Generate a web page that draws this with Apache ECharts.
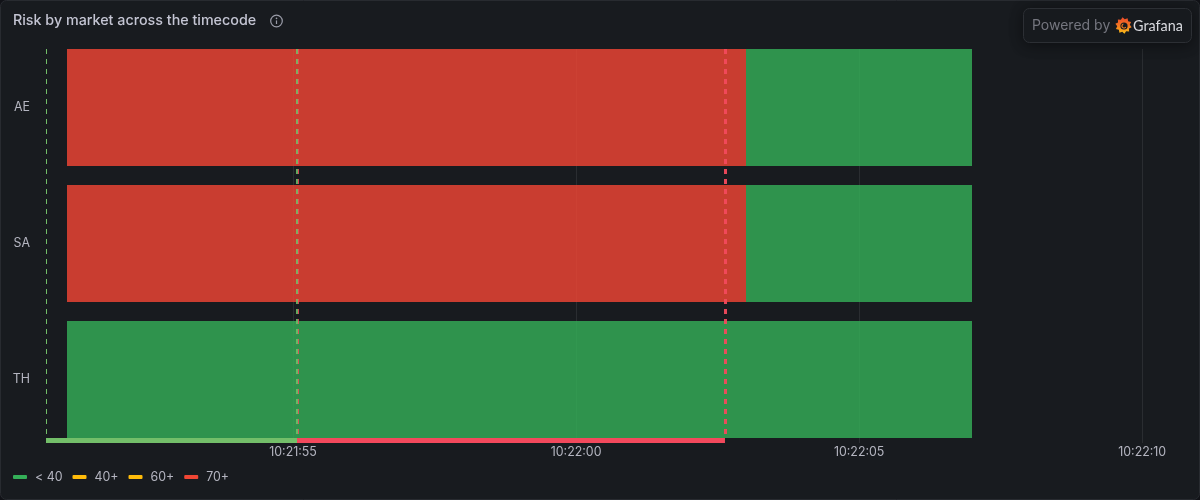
<!DOCTYPE html>
<html>
<head>
<meta charset="utf-8">
<script src="https://cdn.jsdelivr.net/npm/echarts@6/dist/echarts.min.js"></script>
<style>
html,body{margin:0;padding:0;background:#111217;}
#chart{width:1200px;height:500px;}
</style>
</head>
<body>
<div id="chart"></div>
<script>
const categories = ['AE', 'SA', 'TH'];
const legendNames = ['< 40', '40+', '60+', '70+'];
const legendColors = ['#34AF58', '#FFBC0A', '#FFBC0A', '#F04634'];
// [row, start, end]
const lowRiskSegments = [
  ['AE', '10:22:03', '10:22:07'],
  ['SA', '10:22:03', '10:22:07'],
  ['TH', '10:21:51', '10:22:07']
];
const highRiskSegments = [
  ['AE', '10:21:51', '10:22:03'],
  ['SA', '10:21:51', '10:22:03']
];
const axisStart = '10:21:50.636';
const axisEnd = '10:22:10.880';
const tickTimes = ['10:21:55', '10:22:00', '10:22:05', '10:22:10'];
const greenMarkers = ['10:21:50.640', '10:21:55.075'];
const redMarkers = ['10:21:55.095', '10:22:02.645'];
const greenRange = [['10:21:50.636', '10:21:55.070']];
const redRange = [['10:21:55.070', '10:22:02.630']];

const t = s => new Date('2024-01-01T' + s).getTime();
const FONT = 'Inter, "Noto Sans", sans-serif';

function segmentRender(params, api) {
  const rowIndex = api.value(0);
  const a = api.coord([api.value(1), rowIndex]);
  const b = api.coord([api.value(2), rowIndex]);
  const h = api.size([0, 1])[1] * 0.86;
  const x0 = Math.round(a[0]);
  const x1 = Math.round(b[0]);
  return {
    type: 'rect',
    shape: { x: x0, y: a[1] - h / 2, width: x1 - x0, height: h },
    style: { fill: api.visual('color'), opacity: 0.82 }
  };
}
function bandLimits(api) {
  const h = api.size([0, 1])[1];
  const bar = h * 0.86;
  const top = api.coord([api.value(0), 0])[1] - bar / 2;
  const bottom = api.coord([api.value(0), categories.length - 1])[1] + bar / 2;
  return { top, bottom };
}
function markerRender(color, width, opacity) {
  return function (params, api) {
    const lim = bandLimits(api);
    const x = Math.floor(api.coord([api.value(0), 0])[0]) + (width % 2 ? 0.5 : 0);
    return {
      type: 'line',
      shape: { x1: x, y1: lim.top, x2: x, y2: lim.bottom },
      style: { stroke: color, lineWidth: width, lineDash: [5, 5], opacity: opacity }
    };
  };
}
function rangeRender(color) {
  return function (params, api) {
    const lim = bandLimits(api);
    const a = api.coord([api.value(0), 0])[0];
    const b = api.coord([api.value(1), 0])[0];
    return {
      type: 'rect',
      shape: { x: a, y: lim.bottom, width: b - a, height: 5 },
      style: { fill: color }
    };
  };
}
const segSeries = (i, rows) => ({
  type: 'custom',
  name: legendNames[i],
  xAxisIndex: 0, yAxisIndex: 0,
  clip: false,
  itemStyle: { color: legendColors[i] },
  renderItem: segmentRender,
  encode: { x: [1, 2], y: 0 },
  data: rows.map(r => [categories.indexOf(r[0]), t(r[1]), t(r[2])])
});
const annSeries = (name, render, rows) => ({
  type: 'custom', name, xAxisIndex: 0, yAxisIndex: 0, clip: false, silent: true, z: 5,
  renderItem: render, encode: { x: 0 }, data: rows
});

// Grafana-like mark: gear outline with a swirl inside
const gearPoints = [];
for (let i = 0; i < 20; i++) {
  const ang = i * Math.PI / 10 + 0.2;
  const rad = i % 2 ? 6.3 : 8.3;
  gearPoints.push([1123.5 + rad * Math.cos(ang), 25.5 + rad * Math.sin(ang)]);
}
const logoFill = new echarts.graphic.LinearGradient(0, 0, 0, 1, [
  { offset: 0, color: '#EE4A2A' }, { offset: 0.55, color: '#F47B20' }, { offset: 1, color: '#FBC318' }
]);

const chart = echarts.init(document.getElementById('chart'), null, { renderer: 'canvas' });
chart.setOption({
  animation: false,
  backgroundColor: 'transparent',
  title: {
    text: 'Risk by market across the timecode',
    left: 13, top: 13,
    padding: 0,
    textStyle: { color: '#C4C5D3', fontFamily: FONT, fontSize: 14.3, fontWeight: 500, lineHeight: 16 }
  },
  legend: {
    left: 13, top: 471, padding: 0,
    itemWidth: 14, itemHeight: 4, itemGap: 10,
    icon: 'roundRect',
    textStyle: { color: '#B4B5C0', fontFamily: FONT, fontSize: 12.4, padding: [0, 0, 0, 3] },
    data: legendNames.map((n, i) => ({ name: n, itemStyle: { color: legendColors[i] } }))
  },
  grid: [
    { left: 46, right: 8, top: 39.5, height: 408 },
    { left: 46, right: 8, top: 49, height: 394 }
  ],
  xAxis: [
    { gridIndex: 0, type: 'time', min: t(axisStart), max: t(axisEnd), show: false },
    {
      gridIndex: 1, type: 'time', min: t(axisStart), max: t(axisEnd),
      axisLine: { show: false },
      axisTick: { show: false, customValues: tickTimes.map(t) },
      axisLabel: {
        color: '#B4B5C0', fontFamily: FONT, fontSize: 12.4, margin: 3,
        customValues: tickTimes.map(t),
        hideOverlap: false,
        formatter: '{HH}:{mm}:{ss}'
      },
      splitLine: { show: true, lineStyle: { color: '#2A2D31', width: 1 } }
    }
  ],
  yAxis: [
    {
      gridIndex: 0, type: 'category', inverse: true, data: categories,
      axisLine: { show: false }, axisTick: { show: false }, splitLine: { show: false },
      axisLabel: { color: '#B4B5C0', fontFamily: FONT, fontSize: 12.4, margin: 16 }
    },
    { gridIndex: 1, type: 'value', min: 0, max: 1, show: false }
  ],
  series: [
    segSeries(0, lowRiskSegments),
    segSeries(1, []),
    segSeries(2, []),
    segSeries(3, highRiskSegments),
    annSeries('red marker start', markerRender('#F2495C', 1, 0.85), redMarkers.slice(0, 1).map(s => [t(s)])),
    annSeries('red marker end', markerRender('#F2495C', 3, 0.95), redMarkers.slice(1).map(s => [t(s)])),
    annSeries('green marker end', markerRender('#73BF69', 2, 0.85), greenMarkers.slice(1).map(s => [t(s)])),
    annSeries('green marker start', markerRender('#73BF69', 1, 1), greenMarkers.slice(0, 1).map(s => [t(s)])),
    annSeries('green range', rangeRender('#73BF69'), greenRange.map(r => [t(r[0]), t(r[1])])),
    annSeries('red range', rangeRender('#F2495C'), redRange.map(r => [t(r[0]), t(r[1])]))
  ],
  graphic: [
    { type: 'rect', z: -100, silent: true, shape: { x: 0.5, y: 0.5, width: 1199, height: 499, r: 6 },
      style: { fill: '#181B1F', stroke: '#282B30', lineWidth: 1 } },
    { type: 'circle', z: 100, shape: { cx: 276.5, cy: 21, r: 5.8 }, style: { fill: 'none', stroke: '#9A9CA8', lineWidth: 1.2 } },
    { type: 'rect', z: 100, shape: { x: 275.9, y: 20.4, width: 1.2, height: 3.6 }, style: { fill: '#9A9CA8' } },
    { type: 'circle', z: 100, shape: { cx: 276.5, cy: 18.4, r: 0.8 }, style: { fill: '#9A9CA8' } },
    { type: 'rect', z: 200, silent: true, shape: { x: 1023.5, y: 8.5, width: 168, height: 34, r: 6 },
      style: { fill: '#181B1F', stroke: '#2C2F34', lineWidth: 1, shadowBlur: 14, shadowColor: 'rgba(0,0,0,0.45)', shadowOffsetY: 2 } },
    { type: 'text', z: 201, silent: true, style: { x: 1032, y: 26, text: 'Powered by', fill: '#75767F', font: '400 14px ' + FONT, textVerticalAlign: 'middle', textBaseline: 'middle' } },
    { type: 'polygon', z: 201, silent: true, shape: { points: gearPoints }, style: { fill: logoFill } },
    { type: 'circle', z: 202, silent: true, shape: { cx: 1124, cy: 26, r: 3.6 }, style: { fill: '#181B1F' } },
    { type: 'arc', z: 203, silent: true, shape: { cx: 1124, cy: 26, r: 2, startAngle: 0.5, endAngle: 4.4 }, style: { fill: 'none', stroke: '#F47B20', lineWidth: 1.1 } },
    { type: 'text', z: 201, silent: true, style: { x: 1133, y: 26, text: 'Grafana', fill: '#D8D9DE', font: '400 14.4px Lato, ' + FONT, textVerticalAlign: 'middle', textBaseline: 'middle' } }
  ]
});
</script>
</body>
</html>
